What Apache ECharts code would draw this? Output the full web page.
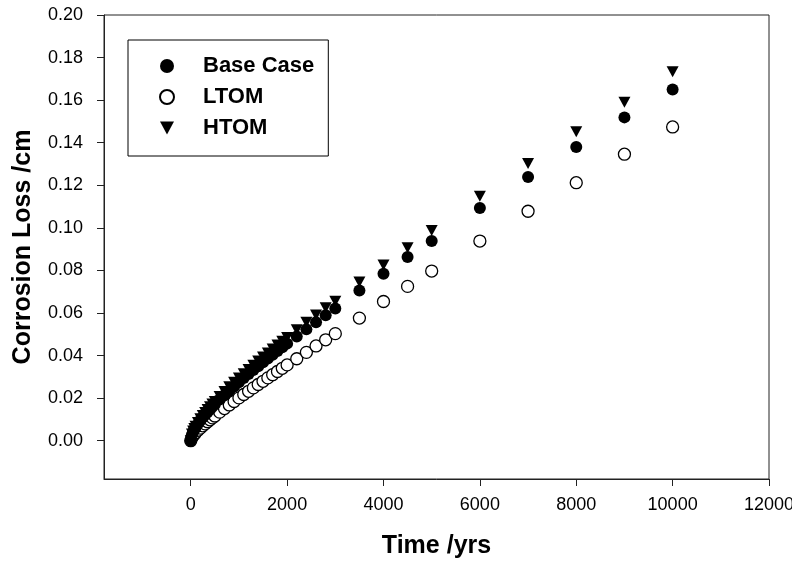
<!DOCTYPE html>
<html>
<head>
<meta charset="utf-8">
<script src="https://cdn.jsdelivr.net/npm/echarts@6/dist/echarts.min.js"></script>
<style>html,body{margin:0;padding:0;background:#fff}#c{width:792px;height:562px}</style>
</head>
<body>
<div id="c"></div>
<script>
const times = [0,25,50,75,100,150,200,250,300,350,400,450,500,600,700,800,900,1000,1100,1200,1300,1400,1500,1600,1700,1800,1900,2000,2200,2400,2600,2800,3000,3500,4000,4500,5000,6000,7000,8000,9000,10000];
const baseCase = [0,0.0028,0.0042,0.0053,0.0062,0.0079,0.0095,0.0109,0.0122,0.0135,0.0147,0.0159,0.0171,0.0193,0.0214,0.0235,0.0255,0.0275,0.0294,0.0313,0.0332,0.0350,0.0368,0.0386,0.0404,0.0421,0.0439,0.0456,0.0490,0.0523,0.0556,0.0589,0.0621,0.0706,0.0784,0.0863,0.0938,0.1093,0.1239,0.1380,0.1519,0.1650];
const ltom = [0,0.0015,0.0024,0.0030,0.0037,0.0049,0.0059,0.0070,0.0079,0.0089,0.0098,0.0107,0.0116,0.0134,0.0151,0.0168,0.0184,0.0201,0.0217,0.0232,0.0248,0.0264,0.0279,0.0295,0.0310,0.0325,0.0340,0.0356,0.0385,0.0415,0.0445,0.0474,0.0503,0.0576,0.0654,0.0725,0.0797,0.0938,0.1078,0.1212,0.1346,0.1474];
const htom = [0,0.0031,0.0046,0.0057,0.0068,0.0086,0.0103,0.0118,0.0132,0.0146,0.0159,0.0172,0.0184,0.0208,0.0231,0.0253,0.0274,0.0295,0.0315,0.0335,0.0355,0.0374,0.0393,0.0412,0.0431,0.0449,0.0467,0.0485,0.0521,0.0556,0.0591,0.0625,0.0655,0.0745,0.0825,0.0907,0.0988,0.1148,0.1302,0.1452,0.1590,0.1733];
const xTicks = [0,2000,4000,6000,8000,10000,12000];
const yTicks = [0,0.02,0.04,0.06,0.08,0.10,0.12,0.14,0.16,0.18,0.20];
const seriesNames = ['Base Case','LTOM','HTOM'];

const pairs = arr => times.map((t,i)=>[t,arr[i]]);
const FONT = 'Liberation Sans, Arial, sans-serif';
const chart = echarts.init(document.getElementById('c'), null, {renderer:'canvas'});
chart.setOption({
  animation:false,
  backgroundColor:'#fff',
  grid:{left:104,right:23,top:15,bottom:83,outerBoundsMode:'none',containLabel:false,show:true,borderColor:'#222',borderWidth:1,backgroundColor:'transparent'},
  legend:{
    orient:'vertical',left:128,top:40,
    padding:[15,14,17,31],
    itemWidth:14,itemHeight:14,itemGap:9,
    borderColor:'#000',borderWidth:1,
    textStyle:{fontFamily:FONT,fontWeight:'bold',fontSize:22,color:'#000',lineHeight:20,padding:[0,0,0,24]},
    data:[
      {name:seriesNames[0],icon:'circle'},
      {name:seriesNames[1],icon:'circle'},
      {name:seriesNames[2],icon:'path://M0,0 L12,0 L6,11 Z'}
    ]
  },
  xAxis:{
    type:'value',min:-1800,max:12000,
    name:'Time /yrs',nameLocation:'middle',nameGap:55,
    nameTextStyle:{fontFamily:FONT,fontWeight:'bold',fontSize:25,color:'#000'},
    axisLine:{show:true,onZero:false,lineStyle:{color:'#222',width:1}},
    axisTick:{show:true,length:7,inside:false,customValues:xTicks,lineStyle:{color:'#222'}},
    axisLabel:{customValues:xTicks,fontFamily:FONT,fontSize:18,color:'#000',margin:17,formatter:v=>String(v)},
    splitLine:{show:false}
  },
  yAxis:{
    type:'value',min:-0.018,max:0.2,
    name:'Corrosion Loss /cm',nameLocation:'middle',nameGap:68,
    nameTextStyle:{fontFamily:FONT,fontWeight:'bold',fontSize:25,color:'#000'},
    axisLine:{show:true,onZero:false,lineStyle:{color:'#222',width:1}},
    axisTick:{show:true,length:7,inside:false,customValues:yTicks,lineStyle:{color:'#222'}},
    axisLabel:{customValues:yTicks,fontFamily:FONT,fontSize:18,color:'#000',margin:21,formatter:v=>v.toFixed(2)},
    splitLine:{show:false}
  },
  series:[
    {name:seriesNames[0],type:'scatter',data:pairs(baseCase),symbol:'circle',symbolSize:12,itemStyle:{color:'#000',opacity:1},z:3},
    {name:seriesNames[1],type:'scatter',data:pairs(ltom),symbol:'circle',symbolSize:12,itemStyle:{color:'#fff',borderColor:'#000',borderWidth:1.3,opacity:1},z:2},
    {name:seriesNames[2],type:'scatter',data:pairs(htom),symbol:'triangle',symbolRotate:180,symbolSize:[12,11],itemStyle:{color:'#000',opacity:1},z:3}
  ]
});
</script>
</body>
</html>
